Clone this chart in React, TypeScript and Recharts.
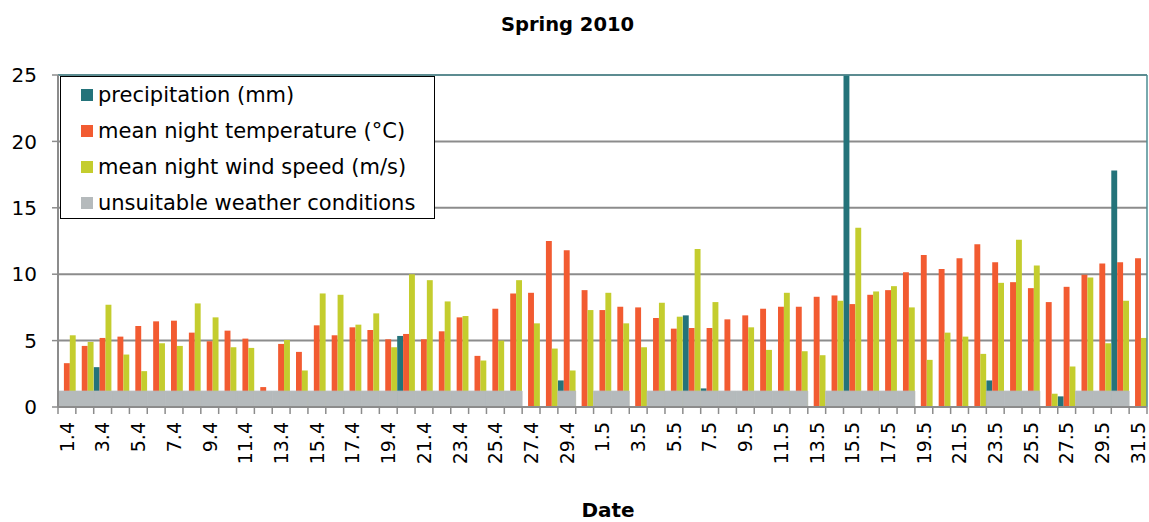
import { BarChart, Bar, XAxis, YAxis, CartesianGrid, ReferenceLine, Legend } from 'recharts'

const dates = [
  '1.4', '2.4', '3.4', '4.4', '5.4', '6.4', '7.4', '8.4', '9.4', '10.4',
  '11.4', '12.4', '13.4', '14.4', '15.4', '16.4', '17.4', '18.4', '19.4', '20.4',
  '21.4', '22.4', '23.4', '24.4', '25.4', '26.4', '27.4', '28.4', '29.4', '30.4',
  '1.5', '2.5', '3.5', '4.5', '5.5', '6.5', '7.5', '8.5', '9.5', '10.5',
  '11.5', '12.5', '13.5', '14.5', '15.5', '16.5', '17.5', '18.5', '19.5', '20.5',
  '21.5', '22.5', '23.5', '24.5', '25.5', '26.5', '27.5', '28.5', '29.5', '30.5', '31.5',
]

const precipitation = [
  0, 0, 3.0, 0, 0, 0, 0, 0, 0, 0,
  0, 0, 0, 0, 0, 0, 0, 0, 0, 5.35,
  0, 0, 0, 0, 0, 0, 0, 0, 2.0, 0,
  0, 0, 0, 0, 0, 6.9, 1.4, 0, 0, 0,
  0, 0, 0, 0, 25, 0, 0, 0, 0, 0,
  0, 0, 2.0, 0, 0, 0, 0.8, 0, 0, 17.8, 0,
]

const temperature = [
  3.3, 4.6, 5.2, 5.3, 6.1, 6.45, 6.5, 5.6, 4.95, 5.75,
  5.15, 1.5, 4.75, 4.15, 6.15, 5.4, 6.0, 5.8, 5.1, 5.5,
  5.1, 5.7, 6.75, 3.85, 7.4, 8.55, 8.6, 12.5, 11.8, 8.8,
  7.3, 7.55, 7.5, 6.7, 5.9, 5.95, 5.95, 6.6, 6.9, 7.4,
  7.55, 7.55, 8.3, 8.4, 7.75, 8.45, 8.8, 10.15, 11.45, 10.4,
  11.2, 12.25, 10.9, 9.4, 8.95, 7.9, 9.05, 9.95, 10.8, 10.9, 11.2,
]

const windSpeed = [
  5.4, 4.9, 7.7, 3.95, 2.7, 4.8, 4.6, 7.8, 6.75, 4.5,
  4.45, 0, 5.05, 2.75, 8.55, 8.45, 6.2, 7.05, 4.5, 10.0,
  9.55, 7.95, 6.85, 3.5, 5.0, 9.55, 6.3, 4.4, 2.75, 7.3,
  8.6, 6.3, 4.5, 7.85, 6.8, 11.9, 7.9, 0, 6.0, 4.3,
  8.6, 4.2, 3.9, 8.0, 13.5, 8.7, 9.1, 7.5, 3.55, 5.6,
  5.3, 4.0, 9.35, 12.6, 10.65, 1.0, 3.05, 9.75, 4.8, 8.0, 5.2,
]

const unsuitable = [
  1.2, 1.2, 1.2, 1.2, 1.2, 1.2, 1.2, 1.2, 1.2, 1.2,
  1.2, 1.2, 1.2, 1.2, 1.2, 1.2, 1.2, 1.2, 1.2, 1.2,
  1.2, 1.2, 1.2, 1.2, 1.2, 1.2, 0, 0, 1.2, 0,
  1.2, 1.2, 0, 1.2, 1.2, 1.2, 1.2, 1.2, 1.2, 1.2,
  1.2, 1.2, 0, 1.2, 1.2, 1.2, 1.2, 1.2, 0, 0,
  0, 0, 1.2, 1.2, 1.2, 0, 0, 1.2, 1.2, 1.2, 0,
]

const yTicks = [0, 5, 10, 15, 20, 25]

const seriesNames = [
  'precipitation (mm)',
  'mean night temperature (°C)',
  'mean night wind speed (m/s)',
  'unsuitable weather conditions',
]
const seriesColors = ['#24737a', '#f25b31', '#c4cd2e', '#b5babc']

const data = dates.map((date, i) => ({
  date,
  precipitation: precipitation[i],
  temperature: temperature[i],
  wind: windSpeed[i],
  unsuitable: unsuitable[i] || null,
}))

const FONT = '"DejaVu Sans", sans-serif'
const AXIS_GRAY = '#8c8c8c'
const BAND = 1089 / dates.length

function DateTick(props: any) {
  const { x, y, payload, index } = props
  const ty = y + 15
  return (
    <g>
      <line x1={x - BAND / 2} x2={x - BAND / 2} y1={y} y2={y + 7} stroke={AXIS_GRAY} strokeWidth={1.5} />
      {index === dates.length - 1 && (
        <line x1={x + BAND / 2} x2={x + BAND / 2} y1={y} y2={y + 7} stroke={AXIS_GRAY} strokeWidth={1.5} />
      )}
      {index % 2 === 0 && (
        <text
          x={x}
          y={ty}
          dy="0.36em"
          textAnchor="end"
          transform={`rotate(-90, ${x}, ${ty})`}
          fontFamily={FONT}
          fontSize={19}
          fill="#000"
        >
          {payload.value}
        </text>
      )}
    </g>
  )
}

function LegendBox() {
  const centers = [18, 54, 90, 126]
  return (
    <div
      style={{
        width: 375,
        height: 143,
        boxSizing: 'border-box',
        border: '1.5px solid #000',
        background: '#fff',
        position: 'relative',
        fontFamily: FONT,
        fontSize: 21,
        color: '#000',
      }}
    >
      {seriesNames.map((name, i) => (
        <div key={name} style={{ position: 'absolute', left: 20, top: centers[i] - 13, height: 26, display: 'flex', alignItems: 'center' }}>
          <span style={{ width: 12, height: 12, background: seriesColors[i], display: 'inline-block', marginRight: 5 }} />
          <span style={{ whiteSpace: 'nowrap' }}>{name}</span>
        </div>
      ))}
    </div>
  )
}

export default function App() {
  return (
    <div style={{ position: 'absolute', left: 0, top: 0, width: 1149, height: 522, background: '#fff' }}>
      <div
        style={{
          position: 'absolute',
          left: 0,
          width: 1135,
          top: 15,
          textAlign: 'center',
          fontFamily: FONT,
          fontWeight: 'bold',
          fontSize: 19.5,
          lineHeight: '19px',
        }}
      >
        Spring 2010
      </div>
      <BarChart
        width={1149}
        height={522}
        data={data}
        margin={{ top: 75, right: 2, left: 0, bottom: 55 }}
        barGap={0}
        barCategoryGap={0}
      >
        <CartesianGrid vertical={false} stroke={AXIS_GRAY} strokeWidth={2} />
        <XAxis
          dataKey="date"
          interval={0}
          height={60}
          tickSize={0}
          tickMargin={0}
          tickLine={false}
          axisLine={{ stroke: AXIS_GRAY, strokeWidth: 2 }}
          tick={<DateTick />}
        />
        <XAxis xAxisId="g" dataKey="date" hide />
        <YAxis
          domain={[0, 25]}
          ticks={yTicks}
          width={58}
          tickSize={6}
          tickMargin={15}
          axisLine={{ stroke: AXIS_GRAY, strokeWidth: 2 }}
          tickLine={{ stroke: AXIS_GRAY, strokeWidth: 1.5 }}
          tick={{ fontFamily: FONT, fontSize: 20, fill: '#000' }}
        />
        <Bar dataKey="precipitation" name={seriesNames[0]} fill={seriesColors[0]} barSize={5.9} isAnimationActive={false} />
        <Bar dataKey="temperature" name={seriesNames[1]} fill={seriesColors[1]} barSize={5.9} isAnimationActive={false} />
        <Bar dataKey="wind" name={seriesNames[2]} fill={seriesColors[2]} barSize={5.9} isAnimationActive={false} />
        <Bar
          xAxisId="g"
          dataKey="unsuitable"
          name={seriesNames[3]}
          fill={seriesColors[3]}
          stroke={seriesColors[3]}
          strokeWidth={0.8}
          barSize={17.8}
          isAnimationActive={false}
        />
        <ReferenceLine y={25} stroke="#4d8d93" strokeWidth={1.5} />
        <ReferenceLine x="31.5" position="end" stroke="#4d8d93" strokeWidth={1.5} />
        <Legend
          layout="vertical"
          align="center"
          verticalAlign="middle"
          wrapperStyle={{ position: 'absolute', left: 60, top: 76, width: 375, height: 143 }}
          content={() => <LegendBox />}
        />
      </BarChart>
      <div
        style={{
          position: 'absolute',
          left: 508,
          width: 200,
          top: 500,
          textAlign: 'center',
          fontFamily: FONT,
          fontWeight: 'bold',
          fontSize: 20,
          lineHeight: '20px',
        }}
      >
        Date
      </div>
    </div>
  )
}
